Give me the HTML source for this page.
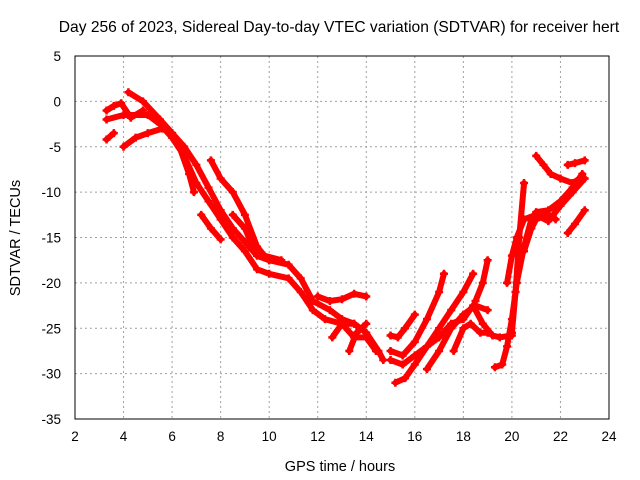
<!DOCTYPE html>
<html><head><meta charset="utf-8"><style>
body{margin:0;background:#fff}
svg{display:block;font-family:"Liberation Sans",sans-serif}
</style></head><body>
<svg id="chart" width="640" height="480" viewBox="0 0 640 480">
<rect width="640" height="480" fill="#fff"/>
<text x="339" y="32" font-size="15.6" text-anchor="middle" fill="#000">Day 256 of 2023, Sidereal Day-to-day VTEC variation (SDTVAR) for receiver hert</text>
<g id="grid"></g>
<g id="axes"></g>
<g id="series"></g>
<text x="340" y="471" font-size="14.5" text-anchor="middle">GPS time / hours</text>
<text transform="translate(20,238) rotate(-90)" font-size="14.5" text-anchor="middle">SDTVAR / TECUs</text>
</svg>
<script>
const xTicks=[2,4,6,8,10,12,14,16,18,20,22,24];
const yTicks=[5,0,-5,-10,-15,-20,-25,-30,-35];
const t1=[[4.2,1],[4.8,0],[5.5,-2],[6,-3.5],[6.5,-5],[7,-7],[7.5,-9.5],[8,-12],[8.5,-14],[9,-15.5],[9.5,-17],[10,-17.5],[10.8,-18],[11.3,-19.5],[11.8,-22],[12.5,-23],[13,-24],[13.5,-24.5],[14,-25.5],[14.5,-27.5],[14.7,-28.5]];
const t2=[[3.3,-2],[4,-1.5],[5,-1.5],[5.5,-2.5],[6,-4],[6.5,-6],[7,-9],[7.5,-11],[8,-13],[8.5,-15],[9,-16.5],[9.5,-18.5],[10,-19],[10.8,-19.5],[11.3,-21],[11.8,-23],[12.3,-24],[13,-24.5],[13.5,-26],[14,-26],[14.4,-27.5]];
const t3=[[3.3,-4.2],[3.6,-3.5]];
const t3b=[[3.3,-1],[3.6,-0.5],[3.9,-0.2],[4.3,-1.8],[4.8,-1]];
const t4=[[4,-5],[4.5,-4],[5,-3.5],[5.6,-3]];
const t5=[[6,-3.5],[6.3,-5],[6.7,-8],[6.9,-10]];
const t6=[[7.6,-6.5],[8,-8.5],[8.5,-10],[9,-12.5],[9.5,-16],[9.8,-17],[10.5,-17.5]];
const t7=[[7.2,-12.5],[7.6,-14],[8,-15.2]];
const t8=[[8.5,-12.5],[9,-14],[9.5,-17],[10,-17.5]];
const t9=[[12,-21.5],[12.5,-22],[13,-21.8],[13.5,-21.2],[14,-21.5]];
const t10=[[12.6,-26],[13,-24.5],[13.5,-24.5]];
const t11=[[13.3,-27.5],[13.6,-25.5],[14,-24.5]];
const t12=[[15,-25.8],[15.3,-26],[15.6,-25],[16,-23.5]];
const t13=[[15,-27.5],[15.5,-28],[16,-26.5],[16.5,-24],[17,-21],[17.2,-19]];
const t14=[[15,-28.5],[15.5,-29],[16,-28],[16.5,-27],[17,-25],[17.5,-23],[18,-21],[18.4,-19]];
const t15=[[15.2,-31],[15.6,-30.5],[16,-29],[16.5,-27],[17,-26],[17.5,-24.5],[18,-24],[18.4,-22.5],[18.8,-24.5],[19.2,-25.8],[19.5,-26],[20,-25.8]];
const t16=[[16.5,-29.5],[17,-27.5],[17.5,-25],[18,-23.5],[18.5,-22.5],[19,-23]];
const t17=[[17.6,-27.5],[18,-25],[18.3,-24.5],[18.7,-25.5],[19,-25.5]];
const t18=[[18.5,-22],[18.8,-20],[19,-17.5]];
const t19=[[19.3,-29.3],[19.6,-29],[19.8,-27],[20,-24],[20.2,-20],[20.5,-16],[20.8,-13],[21,-12.2],[21.5,-12],[22,-11],[22.5,-9.5],[22.9,-8]];
const t20=[[19.8,-20],[20,-17],[20.2,-15],[20.5,-13],[21,-12.5],[21.5,-13.2],[22,-11.5],[22.5,-10],[23,-8.5]];
const t21=[[20,-25.5],[20.15,-21],[20.3,-15],[20.5,-9]];
const t22=[[21,-6],[21.3,-7],[21.6,-8],[22,-8.5],[22.5,-9],[22.8,-8.5]];
const t23=[[22.3,-7],[22.6,-6.8],[23,-6.5]];
const t24=[[22.3,-14.5],[22.6,-13.5],[23,-12]];
const t25=[[20.5,-16.5],[20.8,-14],[21,-13],[21.5,-12.5],[21.8,-13]];
const tracks=[t1,t2,t3,t3b,t4,t5,t6,t7,t8,t9,t10,t11,t12,t13,t14,t15,t16,t17,t18,t19,t20,t21,t22,t23,t24,t25];

const X0=75,X1=609,Y0=56,Y1=419,XMIN=2,XMAX=24,YMIN=-35,YMAX=5;
const sx=v=>X0+(v-XMIN)/(XMAX-XMIN)*(X1-X0);
const sy=v=>Y1-(v-YMIN)/(YMAX-YMIN)*(Y1-Y0);
const NS="http://www.w3.org/2000/svg";
function mk(tag,attrs,parent){const e=document.createElementNS(NS,tag);for(const k in attrs)e.setAttribute(k,attrs[k]);parent.appendChild(e);return e;}
const grid=document.getElementById('grid'),axes=document.getElementById('axes'),ser=document.getElementById('series');
xTicks.forEach(t=>{
  const x=sx(t);
  if(t>XMIN&&t<XMAX){const g=mk('line',{x1:x,x2:x,y1:Y0,y2:Y1,stroke:'#a0a0a0','stroke-dasharray':'2,3','stroke-width':1},grid);
  
  }
  const l=mk('text',{x:x,y:Y1+22,'font-size':13.5,'text-anchor':'middle'},axes);l.textContent=t;
  
  
});
yTicks.forEach(t=>{
  const y=sy(t);
  if(t>YMIN&&t<YMAX){const g=mk('line',{x1:X0,x2:X1,y1:y,y2:y,stroke:'#a0a0a0','stroke-dasharray':'2,3','stroke-width':1},grid);
  
  }
  const l=mk('text',{x:X0-14,y:y+5,'font-size':13.5,'text-anchor':'end'},axes);l.textContent=t;
  
  
});
const fr=mk('rect',{x:X0,y:Y0,width:X1-X0,height:Y1-Y0,fill:'none',stroke:'#000','stroke-width':1},axes);


tracks.forEach(tr=>{
  const p=mk('polyline',{points:tr.map(d=>sx(d[0])+','+sy(d[1])).join(' '),fill:'none',stroke:'#f00','stroke-width':6,'stroke-linejoin':'round','stroke-linecap':'round'},ser);
  
  
  tr.forEach(d=>{
    const x=sx(d[0]),y=sy(d[1]);
    const c=mk('path',{d:`M${x-4},${y}H${x+4}M${x},${y-4}V${y+4}`,stroke:'#f00','stroke-width':2.5},ser);
    
    
  });
});
</script>
</body></html>
